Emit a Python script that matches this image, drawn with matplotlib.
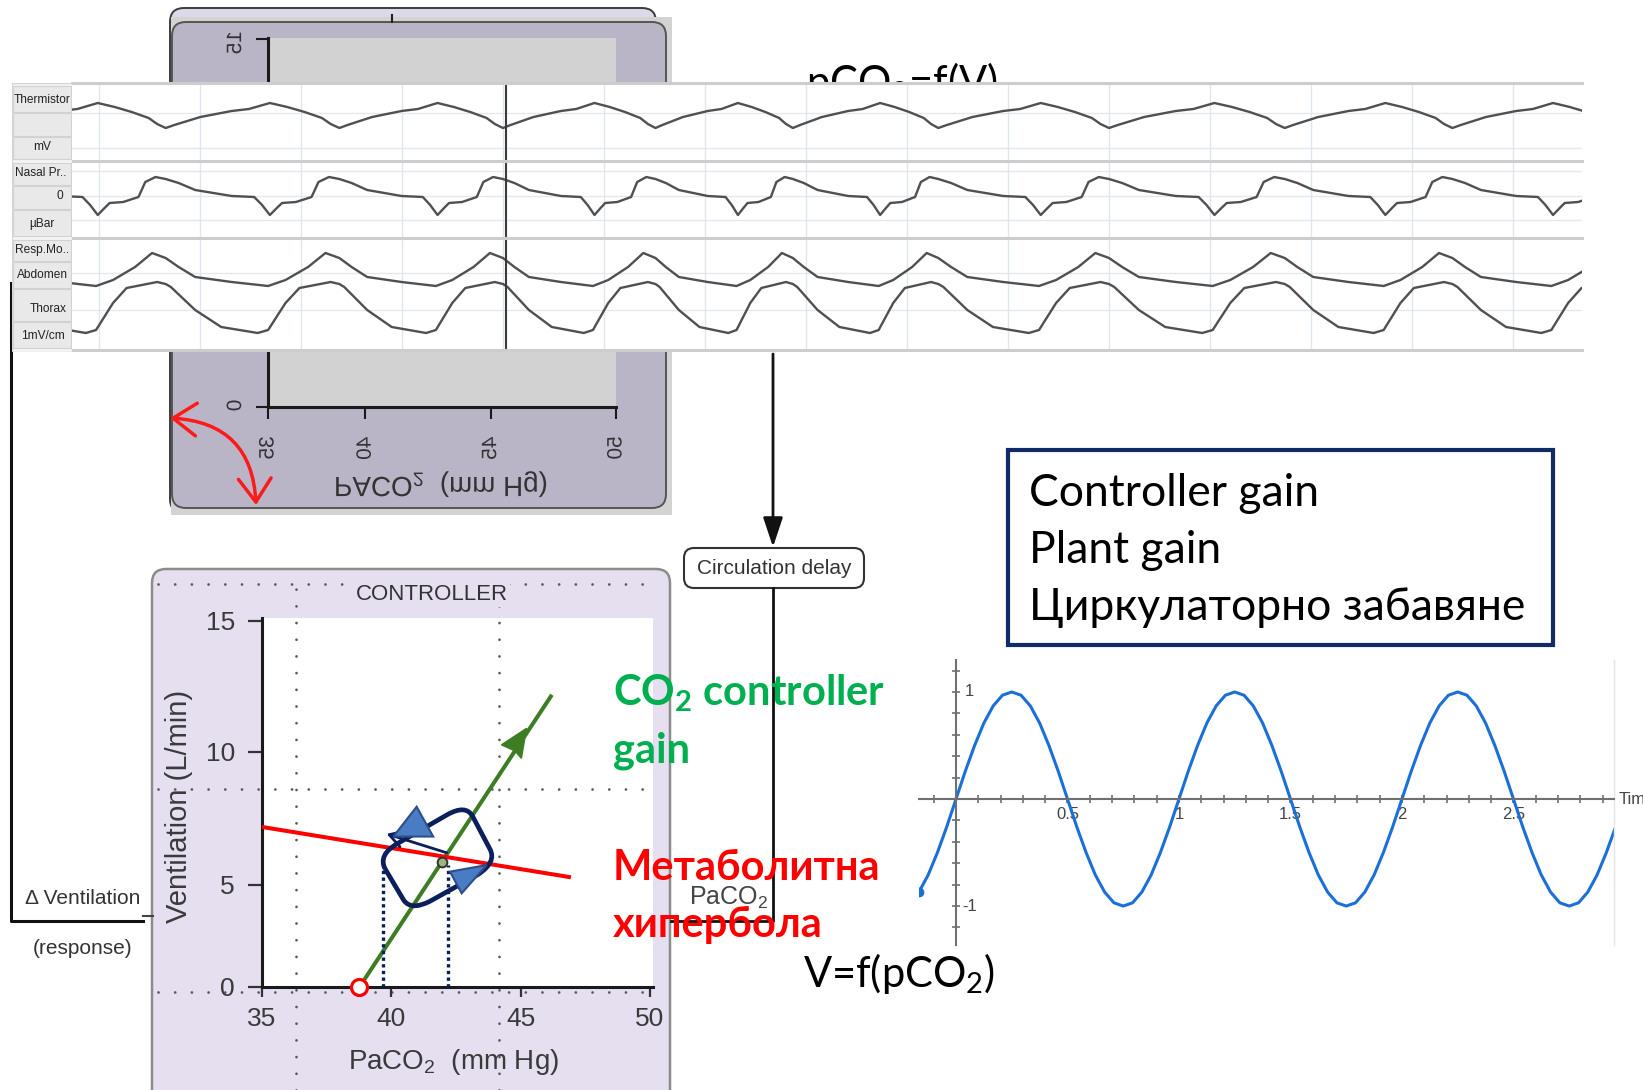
import numpy as np
import matplotlib
matplotlib.use('Agg')
import matplotlib.pyplot as plt
from matplotlib.patches import FancyBboxPatch, Rectangle, Polygon, PathPatch
from matplotlib.path import Path
from matplotlib.patheffects import AbstractPathEffect
from matplotlib.transforms import Affine2D
from matplotlib.ticker import MultipleLocator
from matplotlib import font_manager

W, H = 1643, 1090

plt.rcParams['font.family'] = ['Liberation Sans', 'DejaVu Sans']
plt.rcParams['mathtext.default'] = 'regular'
BIG = ['Lato', 'Noto Sans', 'DejaVu Sans']


def has_font(name):
    try:
        font_manager.findfont(name, fallback_to_default=False)
        return True
    except Exception:
        return False


NARROW = ['Liberation Sans Narrow'] if has_font('Liberation Sans Narrow') else ['Liberation Sans']
NARROW_SIZE = 10.2 if NARROW[0].endswith('Narrow') else 8.6

# ---- respiratory strip (time in s, one breath template per channel) ----
breath_t = [-1.02, 0.66, 2.38, 4.00, 5.51, 6.87, 8.31, 10.00, 11.74, 13.40, 15.06]
therm_ph = [0, 0.05, 0.2, 0.38, 0.48, 0.6, 0.7, 0.8, 0.9, 0.95]
therm_v = [3.2, 3.5, 4.3, 4.9, 5.1, 5.7, 5.3, 4.8, 4.2, 3.6]
nasal_ph = [0, 0.075, 0.17, 0.38, 0.51, 0.555, 0.60, 0.64, 0.67, 0.75, 0.84, 0.88, 0.94]
nasal_v = [1.7, 1.3, 0.6, 0.0, -0.1, -0.9, -1.9, -1.2, -0.7, -0.6, -0.1, 1.4, 1.9]
abd_ph = [0, 0.075, 0.17, 0.38, 0.59, 0.69, 0.82, 0.92]
abd_v = [9.2, 8.3, 7.3, 6.8, 6.4, 7.0, 8.3, 9.7]
thor_ph = [0, 0.03, 0.17, 0.32, 0.53, 0.59, 0.69, 0.77, 0.95]
thor_v = [6.6, 6.3, 4.0, 2.3, 1.7, 2.0, 4.7, 6.2, 6.8]
cursor_t = 4.03
strip_labels = ['Thermistor', 'mV', 'Nasal Pr..', '0', 'µBar', 'Resp.Mo..', 'Abdomen', 'Thorax', '1mV/cm']

# ---- flipped plant panel ----
plant_x_ticks = [35, 40, 45, 50]
plant_x_pos = [0, 97, 222, 347]      # uneven tick spacing of the pasted panel
plant_y_ticks = [0, 15]

# ---- controller panel ----
ctrl_x_ticks = [35, 40, 45, 50]
ctrl_y_ticks = [0, 5, 10, 15]
ctrl_scale_vals = [-20, 0, 5, 10, 15, 40]   # its y axis is not evenly spaced
ctrl_scale_pos = [-408, 0, 102, 235, 366, 1021]
gain_x = [38.77, 46.21]
gain_y = [0.0, 12.18]
gain_head = [(45.23, 10.90), (44.26, 10.27), (44.78, 10.04), (45.03, 9.76)]
metab_x = [35.0, 46.87]
metab_y = [7.18, 5.30]
setpoint = (38.77, 0.0)
eq_point = (41.95, 5.86)
loop_x = [39.48, 42.89, 44.08, 40.76]
loop_y = [6.13, 8.05, 5.86, 3.73]
tri_up = [(40.98, 7.94), (40.08, 6.82), (41.62, 6.82)]
tri_down = [(42.27, 5.50), (43.69, 5.75), (42.72, 4.59)]
step_from = (42.14, 6.21)
step_to = (39.82, 6.92)
drop_x = [39.69, 42.18]
drop_top = [5.75, 5.75]
grid_vx = [36.30, 44.16]
grid_hy = [16.41, 8.61, -0.245]

# ---- sine ----
sine_cycle = [0, .26, .5, .71, .87, .97, 1, .97, .87, .71, .5, .26,
              0, -.26, -.5, -.71, -.87, -.97, -1, -.97, -.87, -.71, -.5, -.26]
sine_k = list(range(-4, 72))
sine_t = [k / 24 for k in sine_k]
sine_v = [sine_cycle[k % 24] for k in sine_k]
sine_x_ticks = [0.5, 1, 1.5, 2, 2.5]
sine_x_labels = ['0.5', '1', '1.5', '2', '2.5']

box_lines = ['Controller gain', 'Plant gain', 'Циркулаторно забавяне']

GREEN = '#3e7d23'
NAVY = '#0b1f5c'
LAV = '#e5dfef'


class VFlip(AbstractPathEffect):
    """draw text mirrored top-to-bottom about its own centre"""
    def draw_path(self, renderer, gc, tpath, affine, rgbFace=None):
        ext = tpath.get_extents(affine)
        cy = 0.5 * (ext.y0 + ext.y1)
        flip = Affine2D().translate(0, -cy).scale(1, -1).translate(0, cy)
        renderer.draw_path(gc, tpath, affine + flip, rgbFace)


def piecewise(vals, pos):
    return (lambda v: np.interp(v, vals, pos), lambda p: np.interp(p, pos, vals))


def build(ph, v):
    ts, vs = [], []
    for a, b in zip(breath_t[:-1], breath_t[1:]):
        ts += [a + p * (b - a) for p in ph]
        vs += v
    ts.append(breath_t[-1])
    vs.append(v[0])
    return ts, vs


def rounded_loop(xs, ys, f=0.22):
    pts = np.column_stack([xs, ys])
    n = len(pts)
    verts, codes = [], []
    for i in range(n):
        c, p, q = pts[i], pts[i - 1], pts[(i + 1) % n]
        verts += [c + f * (p - c), c, c + f * (q - c)]
        codes += [Path.MOVETO if i == 0 else Path.LINETO, Path.CURVE3, Path.CURVE3]
    verts.append(verts[0])
    codes.append(Path.LINETO)
    return Path(verts, codes)


def fbox(x0, y0, x1, y1):
    return [x0 / W, 1 - y1 / H, (x1 - x0) / W, (y1 - y0) / H]


fig = plt.figure(figsize=(W / 100, H / 100), dpi=100)

bg = fig.add_axes([0, 0, 1, 1], zorder=0)
bg.set_xlim(0, W)
bg.set_ylim(H, 0)
bg.axis('off')

# pasted plant panel (flipped)
bg.add_patch(FancyBboxPatch((170, 8), 486, 505, boxstyle='round,pad=0,rounding_size=14',
                            fc='#ddd8ea', ec='#3c3c3c', lw=1.4))
bg.add_patch(Rectangle((171, 17), 501, 498, fc='#d3d3d3', ec='none'))
bg.add_patch(FancyBboxPatch((172, 22), 494, 486, boxstyle='round,pad=0,rounding_size=14',
                            fc='#bab5c6', ec='#555555', lw=1.4))
bg.plot([392, 392], [15, 22], color='#222222', lw=1.5)
bg.text(806, 96, 'pCO$_2$=f(V)', fontsize=30, family=BIG, va='baseline', color='black')

# controller panel background
bg.add_patch(FancyBboxPatch((152, 569), 518, 560, boxstyle='round,pad=0,rounding_size=14',
                            fc=LAV, ec='#8c8c8c', lw=1.8))

# feedback line
bg.plot([10.5, 10.5, 143], [283, 921, 921], color='#111111', lw=2.2)
bg.plot([143, 153], [916, 916], color='#444444', lw=1.5)
bg.text(83, 898, 'Δ Ventilation', ha='center', va='center', fontsize=15, color='#333333')
bg.text(83, 949, '(response)', ha='center', va='center', fontsize=15, color='#333333')

# circulation delay
bg.annotate('', xy=(773, 547), xytext=(773, 354),
            arrowprops=dict(arrowstyle='-|>,head_length=0.9,head_width=0.3', mutation_scale=20,
                            color='#111111', lw=2.0, shrinkA=0, shrinkB=0))
bg.plot([773, 773, 671], [588, 921, 921], color='#111111', lw=2.0)
bg.add_patch(FancyBboxPatch((684, 548), 180, 40, boxstyle='round,pad=0,rounding_size=10',
                            fc='white', ec='#333333', lw=1.5))
bg.text(774, 568, 'Circulation delay', ha='center', va='center', fontsize=15, color='#333333')
bg.add_patch(Rectangle((675, 883), 92, 29, fc='white', ec='none'))
bg.text(689, 905, 'PaCO$_2$', fontsize=18, color='#444444', va='baseline')

# ---- plant panel axes ----
pa = fig.add_axes(fbox(268, 38, 616, 407), zorder=1)
pa.set_facecolor('#d2d2d2')
pa.set_xscale('function', functions=piecewise(plant_x_ticks, plant_x_pos))
pa.set_xlim(35, 50)
pa.set_ylim(0, 15.05)
pa.set_xticks(plant_x_ticks)
pa.set_yticks(plant_y_ticks)
for s in ('top', 'right'):
    pa.spines[s].set_visible(False)
for s in ('left', 'bottom'):
    pa.spines[s].set_linewidth(2.2)
    pa.spines[s].set_color('#1a1a1a')
pa.tick_params(length=8.5, width=1.5, color='#1a1a1a', labelsize=15, labelcolor='#333333',
               labelrotation=90)
pa.tick_params(axis='x', pad=12.5)
pa.tick_params(axis='y', pad=8)
pa.set_xlabel('PACO$_2$  (mm Hg)', fontsize=20, color='#333333', va='center')
pa.xaxis.set_label_coords(0.497, -0.21)
for lab in pa.get_xticklabels() + pa.get_yticklabels() + [pa.xaxis.label]:
    lab.set_path_effects([VFlip()])

# ---- respiratory strip ----
rows = [(83, 161, (-0.1, 7.7)), (161, 238, (-4.2, 3.5)), (238, 350, (0, 11.2))]
faint = [[4.7, 1.2], [2.5, 0.0, -2.4], [7.7, 4.0]]
traces = [[build(therm_ph, therm_v)], [build(nasal_ph, nasal_v)],
          [build(abd_ph, abd_v), build(thor_ph, thor_v)]]
for i, (y0, y1, lim) in enumerate(rows):
    s = fig.add_axes(fbox(72, y0, 1582, y1), zorder=2)
    s.set_facecolor('white')
    s.set_xlim(-0.267, 14.683)
    s.set_ylim(*lim)
    s.set_xticks(range(0, 15))
    s.set_yticks([])
    s.tick_params(length=0, labelbottom=False)
    s.grid(axis='x', color='#dfe6ee', lw=1.0)
    for v in faint[i]:
        s.axhline(v, color='#e4e9ef', lw=1.0, zorder=0.5)
    for sp in ('left', 'right', 'bottom'):
        s.spines[sp].set_visible(False)
    s.spines['top'].set_color('#cdcdcd')
    s.spines['top'].set_linewidth(2.2)
    if i == 2:
        s.spines['bottom'].set_visible(True)
        s.spines['bottom'].set_color('#cdcdcd')
        s.spines['bottom'].set_linewidth(2.2)
    for ts, vs in traces[i]:
        s.plot(ts, vs, color='#505050', lw=1.7, solid_joinstyle='round')
    s.axvline(cursor_t, color='#3a3a3a', lw=1.5)

la = fig.add_axes(fbox(12, 83, 72, 352), zorder=2)
la.set_xlim(12, 72)
la.set_ylim(352, 83)
la.axis('off')
la.add_patch(Rectangle((12, 83), 60, 269, fc='#f4f4f4', ec='#d6d6d6', lw=1))
for y0, y1 in [(86, 112), (113, 136), (137, 159), (163, 185), (186, 209), (210, 236),
               (240, 261), (262, 288), (289, 321), (322, 348)]:
    la.add_patch(Rectangle((13, y0), 58, y1 - y0, fc='#e9e9e9', ec='#d2d2d2', lw=0.8))
lab_pos = [(14, 100, 'left'), (42, 147, 'center'), (15, 173, 'left'), (63, 196, 'right'),
           (42, 224, 'center'), (15, 250, 'left'), (42, 275, 'center'), (67, 309, 'right'),
           (43, 336, 'center')]
for (x, y, ha), txt in zip(lab_pos, strip_labels):
    la.text(x, y, txt, ha=ha, va='center', fontsize=NARROW_SIZE, family=NARROW, color='#222222')

# ---- controller axes ----
ca = fig.add_axes(fbox(262, 618, 653, 987), zorder=1)
ca.set_facecolor('white')
ca.set_yscale('function', functions=piecewise(ctrl_scale_vals, ctrl_scale_pos))
for x in grid_vx:
    ca.plot([x, x], [-5.05, 16.41], ls=(0, (0.01, 6)), dash_capstyle='round', lw=2.0,
            color='#5a5a5a', clip_on=False, zorder=1.5)
for y in grid_hy:
    ca.plot([30.96, 50.15], [y, y], ls=(0, (0.01, 6)), dash_capstyle='round', lw=2.0,
            color='#5a5a5a', clip_on=False, zorder=1.5)
ca.text(41.57, 16.01, 'CONTROLLER', ha='center', va='center', fontsize=16, color='#333333',
        bbox=dict(fc=LAV, ec='none', pad=1.5), clip_on=False, zorder=2)
ca.plot(gain_x, gain_y, color=GREEN, lw=2.9, solid_capstyle='butt', zorder=3)
ca.add_patch(Polygon(gain_head, closed=True, fc=GREEN, ec=GREEN, lw=1, zorder=3))
ca.plot(metab_x, metab_y, color='#ff0000', lw=2.9, zorder=4)
for x, top in zip(drop_x, drop_top):
    ca.plot([x, x], [0, top], color=NAVY, lw=2.4, ls=(0, (1, 1)), zorder=4.5)
ca.add_patch(PathPatch(rounded_loop(loop_x, loop_y), fill=False, ec=NAVY, lw=3.4,
                       transform=ca.transData, zorder=5))
ca.annotate('', xy=step_to, xytext=step_from,
            arrowprops=dict(arrowstyle='->,head_length=0.5,head_width=0.3', mutation_scale=20,
                            color=NAVY, lw=2.0, shrinkA=0, shrinkB=0), zorder=5)
for tri in (tri_up, tri_down):
    ca.add_patch(Polygon(tri, closed=True, fc='#4a7cc3', ec='#2b4f8c', lw=1.5, zorder=6))
ca.plot(*eq_point, 'o', ms=7, mfc='#9db57a', mec='#333333', mew=1.4, zorder=6)
ca.plot(*setpoint, 'o', ms=11.5, mfc='white', mec='#ff0000', mew=2.3, clip_on=False, zorder=7)
ca.set_xlim(35, 50.12)
ca.set_ylim(0, 15.11)
ca.set_xticks(ctrl_x_ticks)
ca.set_yticks(ctrl_y_ticks)
for s in ('top', 'right'):
    ca.spines[s].set_visible(False)
for s in ('left', 'bottom'):
    ca.spines[s].set_linewidth(2.2)
    ca.spines[s].set_color('#1a1a1a')
ca.tick_params(direction='out', width=1.6, color='#333333', labelsize=19, labelcolor='#3a3a3a')
ca.tick_params(axis='x', length=7.2, pad=7)
ca.tick_params(axis='y', length=10, pad=9.4)
ca.set_ylabel('Ventilation (L/min)', fontsize=21, color='#3a3a3a', va='center')
ca.yaxis.set_label_coords(-0.212, 0.488)
ca.set_xlabel('PaCO$_2$  (mm Hg)', fontsize=20, color='#3a3a3a', va='center')
ca.xaxis.set_label_coords(0.491, -0.203)

# ---- sine axes ----
sa = fig.add_axes(fbox(919, 660, 1614, 945), zorder=1)
sa.patch.set_alpha(0)
sa.plot(sine_t, sine_v, color='#1b6fd8', lw=2.2)
sa.plot(sine_t[0], sine_v[0], 'o', color='#1b6fd8', ms=6)
sa.set_xlim(-0.166, 2.951)
sa.set_ylim(-1.364, 1.299)
sa.spines['left'].set_position(('data', 0))
sa.spines['bottom'].set_position(('data', 0))
sa.spines['top'].set_visible(False)
sa.spines['right'].set_color('#e4e4e4')
sa.spines['right'].set_linewidth(1.0)
for s in ('left', 'bottom'):
    sa.spines[s].set_color('#707070')
    sa.spines[s].set_linewidth(1.5)
sa.set_xticks(sine_x_ticks, labels=sine_x_labels)
sa.xaxis.set_minor_locator(MultipleLocator(0.1))
sa.set_yticks([-1, 1])
sa.yaxis.set_minor_locator(MultipleLocator(0.2))
sa.tick_params(which='both', direction='inout', length=6, width=1.2, color='#707070')
sa.tick_params(axis='x', labelsize=12, labelcolor='#444444', pad=3)
sa.tick_params(axis='y', labelleft=False)
sa.text(0.04, 1, '1', ha='left', va='center', fontsize=12, color='#444444')
sa.text(0.03, -1, '-1', ha='left', va='center', fontsize=12, color='#444444')
sa.text(2.973, 0, 'Time', ha='left', va='center', fontsize=12, color='#444444', clip_on=False)

# ---- foreground annotations ----
fg = fig.add_axes([0, 0, 1, 1], zorder=10)
fg.set_xlim(0, W)
fg.set_ylim(H, 0)
fg.axis('off')
fg.annotate('', xy=(256, 505), xytext=(170, 418),
            arrowprops=dict(arrowstyle='<->,head_length=0.6,head_width=0.42',
                            connectionstyle='arc3,rad=-0.45', color='#ff1a1a', lw=2.5,
                            mutation_scale=28, shrinkA=0, shrinkB=0))
fg.text(613, 705, 'CO$_2$ controller', fontsize=30, family=BIG, weight='bold', color='#00b050',
        va='baseline')
fg.text(613, 762, 'gain', fontsize=30, family=BIG, weight='bold', color='#00b050', va='baseline')
fg.text(613, 880, 'Метаболитна', fontsize=30, family=BIG, weight='bold', color='#ff0000',
        va='baseline')
fg.text(613, 937, 'хипербола', fontsize=30, family=BIG, weight='bold', color='#ff0000',
        va='baseline')
fg.text(803, 987, 'V=f(pCO$_2$)', fontsize=30, family=BIG, color='black', va='baseline')
fg.add_patch(Rectangle((1008, 450), 545, 195, fill=False, ec='#112b66', lw=3.0))
for y, txt in zip([506, 563, 620], box_lines):
    fg.text(1029, y, txt, fontsize=32, family=BIG, color='black', va='baseline')

fig.savefig('out.png', dpi=100)
